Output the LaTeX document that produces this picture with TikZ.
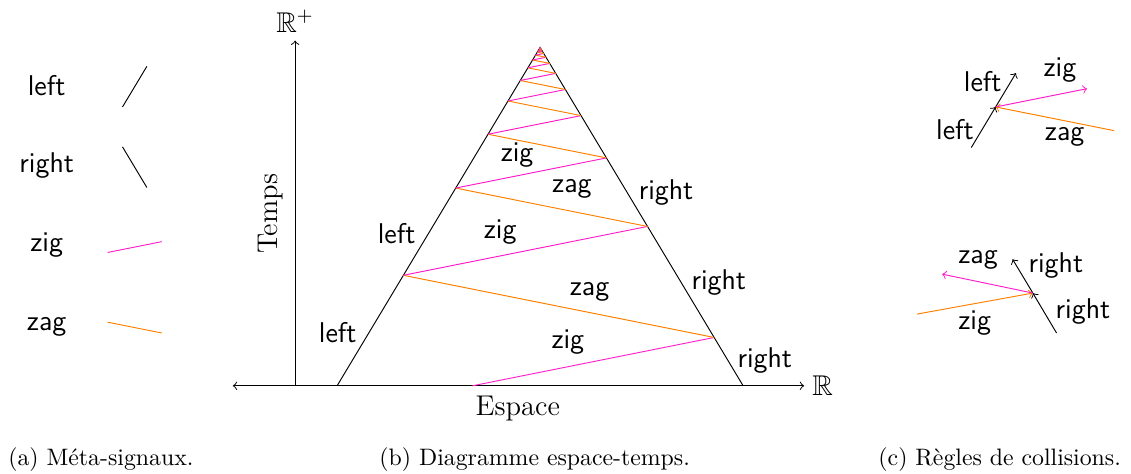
\documentclass[tikz,border=0pt]{standalone}
\usepackage{amssymb}
\usetikzlibrary{calc}
\definecolor{zigpink}{RGB}{255, 30, 200}
\definecolor{zagorange}{RGB}{255, 128, 0}

\begin{document}
\begin{tikzpicture}[
      >=to,
      lbl/.style={font=\large\sffamily},
      axlbl/.style={font=\large},
      captxt/.style={font=\normalsize},
      sig/.style={draw=black},
      zig/.style={draw=zigpink},
      zag/.style={draw=zagorange}
  ]
  \useasboundingbox (0,0) rectangle (16.71,7.0);

  % (a) Meta-signaux
  \node[lbl] (la) at (0.69,5.73) {left};
  \node[lbl] (ra) at (0.69,4.56) {right};
  \node[lbl] (zia) at (0.69,3.38) {zig};
  \node[lbl] (zaa) at (0.69,2.17) {zag};
  \draw[sig] (1.81,5.42) -- (2.17,6.02);
  \draw[sig] (1.81,4.83) -- (2.17,4.23);
  \draw[zig] (1.59,3.27) -- (2.39,3.43);
  \draw[zag] (1.59,2.24) -- (2.39,2.08);
  \node[captxt] (capa) at (1.49,0.21) {(a) M\'eta-signaux.};

  % (b) Diagramme espace-temps
  \coordinate (o) at (4.36,1.3);
  \coordinate (xl) at (3.44,1.3);
  \coordinate (xr) at (11.88,1.3);
  \coordinate (yt) at (4.36,6.4);
  \draw[<->] (xl) -- (xr) node[right, axlbl] (rr) {$\mathbb{R}$};
  \draw[->] (o) -- (yt) node[above, axlbl] (rp) {$\mathbb{R}^+$};
  \node[axlbl] (esp) at (7.65,0.97) {Espace};
  \node[axlbl, rotate=90] (tps) at (4.0,3.84) {Temps};

  \coordinate (L) at (4.98,1.3);
  \coordinate (R) at (10.98,1.3);
  \coordinate (A) at (7.98,6.3);
  \draw[sig] (L) -- (A) -- (R);

  % zig-zag, ratio 11/14 at each bounce
  \draw[zig] ($(L)!1/3!(R)$) -- ($(A)!6/7!(R)$);
  \foreach \n in {0,...,14} {
    \pgfmathsetmacro{\sr}{6/7*(11/14)^(2*\n)}
    \pgfmathsetmacro{\tl}{6/7*(11/14)^(2*\n+1)}
    \pgfmathsetmacro{\sn}{6/7*(11/14)^(2*\n+2)}
    \draw[zag] ($(A)!\sr!(R)$) -- ($(A)!\tl!(L)$);
    \draw[zig] ($(A)!\tl!(L)$) -- ($(A)!\sn!(R)$);
  }

  \node[lbl] (zb1) at (8.39,1.94) {zig};
  \node[lbl] (zb2) at (8.71,2.69) {zag};
  \node[lbl] (zb3) at (7.39,3.57) {zig};
  \node[lbl] (zb4) at (8.45,4.21) {zag};
  \node[lbl] (zb5) at (7.64,4.71) {zig};
  \node[lbl] (lb1) at (4.99,2.08) {left};
  \node[lbl] (lb2) at (5.86,3.55) {left};
  \node[lbl] (rb1) at (11.30,1.67) {right};
  \node[lbl] (rb2) at (10.62,2.82) {right};
  \node[lbl] (rb3) at (9.84,4.15) {right};
  \node[captxt] (capb) at (7.90,0.21) {(b) Diagramme espace-temps.};

  % (c) Regles de collisions
  \coordinate (c1) at (14.71,5.42);
  \coordinate (c1l) at (14.35,4.82);
  \coordinate (c1u) at (15.01,5.92);
  \coordinate (c1z) at (16.06,5.69);
  \coordinate (c1a) at (16.46,5.07);
  \draw[sig, ->] (c1l) -- (c1);
  \draw[zag, ->] (c1a) -- (c1);
  \draw[sig, ->] (c1) -- (c1u);
  \draw[zig, ->] (c1) -- (c1z);
  \node[lbl] (lc1) at (14.52,5.79) {left};
  \node[lbl] (lc2) at (14.11,5.08) {left};
  \node[lbl] (zc1) at (15.66,5.97) {zig};
  \node[lbl] (zc2) at (15.73,4.98) {zag};

  \coordinate (c2) at (15.26,2.67);
  \coordinate (c2l) at (15.61,2.08);
  \coordinate (c2u) at (14.96,3.17);
  \coordinate (c2z) at (13.92,2.95);
  \coordinate (c2a) at (13.55,2.36);
  \draw[sig, ->] (c2l) -- (c2);
  \draw[zag, ->] (c2a) -- (c2);
  \draw[sig, ->] (c2) -- (c2u);
  \draw[zig, ->] (c2) -- (c2z);
  \node[lbl] (zc3) at (14.45,3.16) {zag};
  \node[lbl] (rc1) at (15.60,3.08) {right};
  \node[lbl] (rc2) at (16.00,2.40) {right};
  \node[lbl] (zc4) at (14.40,2.23) {zig};
  \node[captxt] (capc) at (14.77,0.21) {(c) R\`egles de collisions.};

  \end{tikzpicture}
\end{document}
